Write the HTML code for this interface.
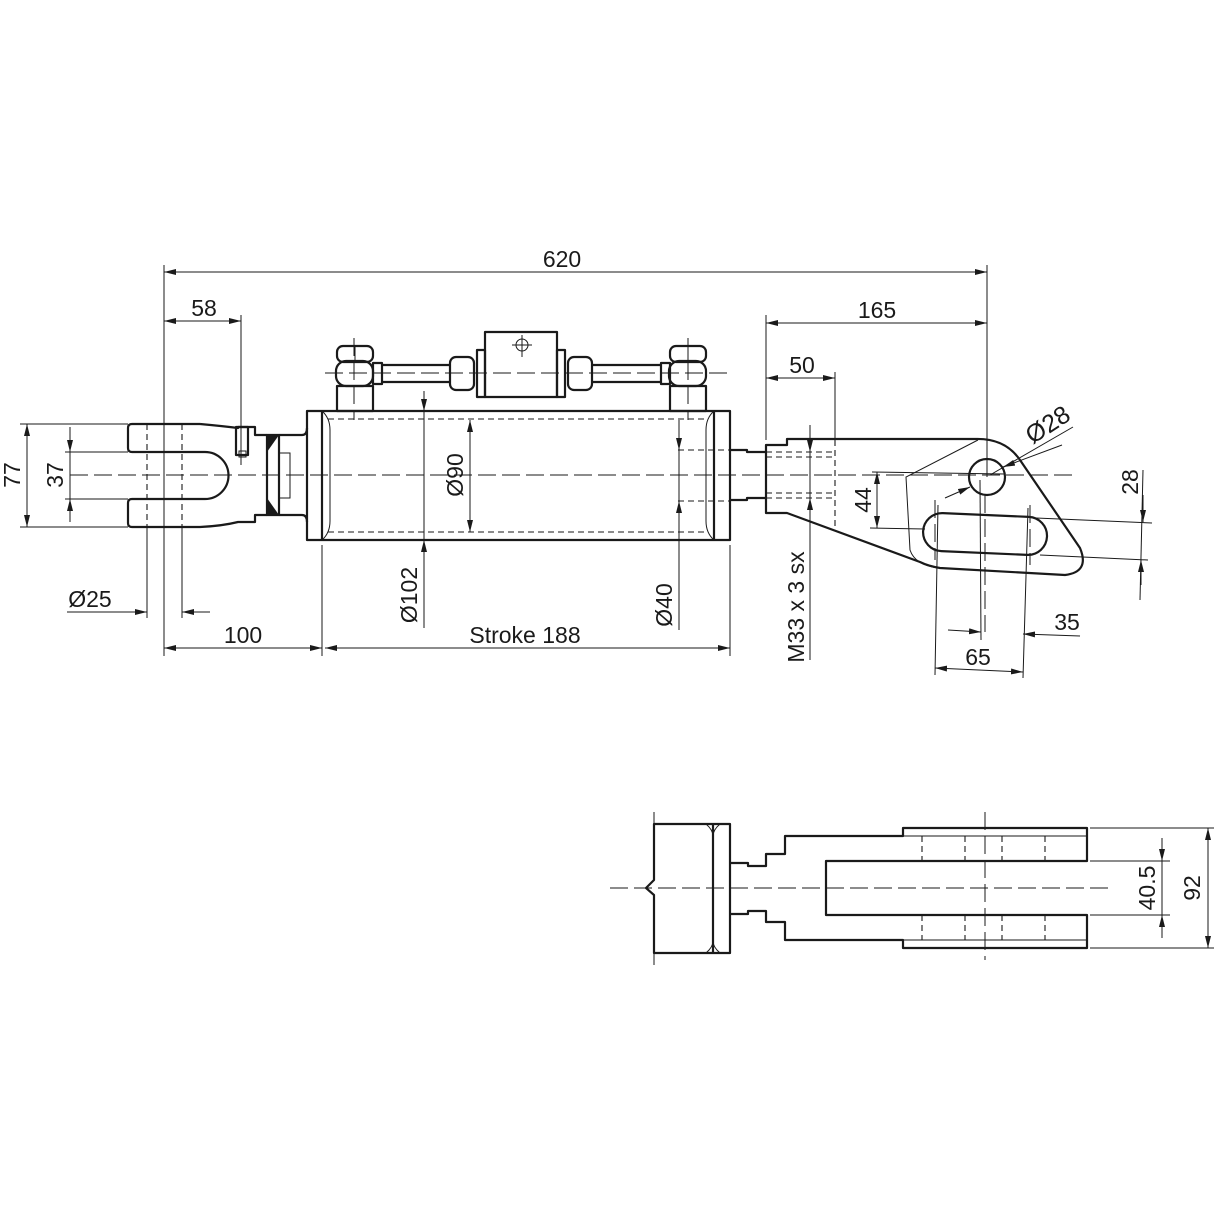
<!DOCTYPE html>
<html><head><meta charset="utf-8"><style>
html,body{margin:0;padding:0;background:#fff}
svg{display:block}
text{font-family:"Liberation Sans Narrow","Liberation Sans",sans-serif;font-size:23px;fill:#1a1a1a}
.o{fill:none;stroke:#1a1a1a;stroke-width:2.2;stroke-linejoin:round}
.t{fill:none;stroke:#1a1a1a;stroke-width:1}
.d{fill:none;stroke:#1a1a1a;stroke-width:1.1;stroke-dasharray:6 4}
.c{fill:none;stroke:#1a1a1a;stroke-width:1;stroke-dasharray:18 6}
.a{fill:none;stroke:#1a1a1a;stroke-width:1;marker-start:url(#ar);marker-end:url(#ar)}
.a1{fill:none;stroke:#1a1a1a;stroke-width:1;marker-end:url(#ar)}
</style></head><body>
<svg width="1214" height="1214" viewBox="0 0 1214 1214" xmlns="http://www.w3.org/2000/svg">
<defs>
<marker id="ar" viewBox="0 0 12 6" refX="12" refY="3" markerWidth="12" markerHeight="6" orient="auto-start-reverse" markerUnits="userSpaceOnUse">
<path d="M0,0 L12,3 L0,6 Z" fill="#1a1a1a"/></marker>
</defs>

<!-- centerlines -->
<line class="c" x1="70" y1="475" x2="1075" y2="475"/>
<line class="c" x1="325" y1="373" x2="727" y2="373"/>
<line class="c" x1="354" y1="338" x2="354" y2="420"/>
<line class="c" x1="688" y1="338" x2="688" y2="420"/>

<!-- LEFT CLEVIS -->
<path class="o" d="M200,424 L132,424 Q128,424 128,428 L128,448 Q128,452 132,452 L200,452 Q205,452 205,452 A23,23 0 0 1 205,499 L132,499 Q128,499 128,503 L128,523 Q128,527 132,527 L200,527 Q222,526 238,522 L255,522 L255,515 L267,515"/>
<path class="o" d="M200,424 Q222,426 238,428 L238,427 L255,427 L255,435 L267,435"/>
<rect class="o" x="236" y="427" width="12" height="28"/>
<rect class="t" x="239" y="451" width="7" height="6"/>
<rect class="o" x="267" y="435" width="12" height="80"/>
<path d="M267,435 L279,435 L267,452 Z" fill="#1a1a1a"/>
<path d="M267,515 L279,515 L267,498 Z" fill="#1a1a1a"/>
<rect class="t" x="279" y="453" width="11" height="45"/>
<path class="o" d="M279,435 L302,435 Q307,435 307,428"/>
<path class="o" d="M279,515 L302,515 Q307,515 307,522"/>
<line class="d" x1="147" y1="424" x2="147" y2="527"/>
<line class="d" x1="182" y1="424" x2="182" y2="527"/>

<!-- CYLINDER -->
<rect class="o" x="307" y="411" width="423" height="129"/>
<line class="o" x1="322" y1="411" x2="322" y2="540"/>
<line class="o" x1="714" y1="411" x2="714" y2="540"/>
<path class="t" d="M322,411 Q330,418 330,430 L330,521 Q330,533 322,540"/>
<path class="t" d="M714,411 Q706,418 706,430 L706,521 Q706,533 714,540"/>
<line class="d" x1="328" y1="419" x2="708" y2="419"/>
<line class="d" x1="328" y1="532" x2="708" y2="532"/>
<line class="d" x1="678" y1="450" x2="730" y2="450"/>
<line class="d" x1="678" y1="501" x2="730" y2="501"/>

<!-- PIPES -->
<rect class="o" x="337" y="386" width="36" height="25"/>
<rect class="o" x="336" y="361" width="37" height="25" rx="10"/>
<rect class="o" x="337" y="346" width="36" height="16" rx="6"/>
<line class="t" x1="355" y1="347" x2="355" y2="361"/>
<rect class="o" x="373" y="363" width="9" height="21"/>
<line class="o" x1="382" y1="365" x2="450" y2="365"/>
<line class="o" x1="382" y1="382" x2="450" y2="382"/>
<rect class="o" x="450" y="357" width="24" height="33" rx="6"/>
<rect class="o" x="477" y="350" width="8" height="47"/>
<rect class="o" x="485" y="332" width="72" height="65"/>
<circle class="t" cx="522" cy="345" r="6"/>
<line class="t" x1="512" y1="345" x2="532" y2="345"/>
<line class="t" x1="522" y1="335" x2="522" y2="357"/>
<rect class="o" x="557" y="350" width="8" height="47"/>
<rect class="o" x="568" y="357" width="24" height="33" rx="6"/>
<line class="o" x1="592" y1="365" x2="661" y2="365"/>
<line class="o" x1="592" y1="382" x2="661" y2="382"/>
<rect class="o" x="661" y="363" width="9" height="21"/>
<rect class="o" x="670" y="386" width="36" height="25"/>
<rect class="o" x="669" y="361" width="37" height="25" rx="10"/>
<rect class="o" x="670" y="346" width="36" height="16" rx="6"/>
<line class="t" x1="688" y1="347" x2="688" y2="361"/>

<!-- ROD END RIGHT -->
<path class="o" d="M730,450 L747,450 L747,452 L766,452"/>
<path class="o" d="M730,500 L747,500 L747,498 L766,498"/>
<path class="o" d="M766,445 L787,445 L787,439 L975,439 Q1005,438 1020,460 L1080,548 Q1090,572 1065,575 L940,568 Q928,566 920,562 L787,513 L766,513 Z"/>
<path class="t" d="M978,440 L906,477 L910,550 Q915,565 938,568"/>
<circle class="o" cx="987" cy="477" r="18"/>
<g transform="rotate(2.5 985 535)"><rect class="o" x="923" y="515" width="124" height="38" rx="19"/></g>
<line class="d" x1="766" y1="452" x2="835" y2="452"/>
<line class="d" x1="766" y1="457" x2="835" y2="457"/>
<line class="d" x1="766" y1="493" x2="835" y2="493"/>
<line class="d" x1="766" y1="498" x2="835" y2="498"/>
<line class="d" x1="835" y1="440" x2="835" y2="530"/>
<line class="c" x1="985" y1="495" x2="985" y2="632"/>
<line class="c" x1="935" y1="500" x2="935" y2="560"/>
<line class="c" x1="1030" y1="505" x2="1030" y2="565"/>

<!-- EXTENSION LINES -->
<line class="t" x1="164" y1="265" x2="164" y2="656"/>
<line class="t" x1="241" y1="315" x2="241" y2="465"/>
<line class="t" x1="322" y1="545" x2="322" y2="656"/>
<line class="t" x1="730" y1="545" x2="730" y2="656"/>
<line class="t" x1="766" y1="315" x2="766" y2="440"/>
<line class="t" x1="835" y1="372" x2="835" y2="438"/>
<line class="t" x1="987" y1="265" x2="987" y2="477"/>
<line class="t" x1="20" y1="424" x2="128" y2="424"/>
<line class="t" x1="20" y1="527" x2="128" y2="527"/>
<line class="t" x1="65" y1="452" x2="128" y2="452"/>
<line class="t" x1="65" y1="499" x2="128" y2="499"/>
<line class="t" x1="147" y1="527" x2="147" y2="618"/>
<line class="t" x1="182" y1="527" x2="182" y2="618"/>
<line class="t" x1="872" y1="472" x2="1005" y2="474"/>
<line class="t" x1="870" y1="528" x2="925" y2="529"/>
<line class="t" x1="1036" y1="518" x2="1152" y2="523"/>
<line class="t" x1="1040" y1="555" x2="1148" y2="560"/>
<line class="t" x1="938" y1="505" x2="935" y2="675"/>
<line class="t" x1="980" y1="480" x2="981" y2="640"/>
<line class="t" x1="1028" y1="508" x2="1023" y2="678"/>

<!-- DIMENSIONS -->
<line class="a" x1="164" y1="272" x2="987" y2="272"/>
<text x="562" y="267" text-anchor="middle">620</text>
<line class="a" x1="164" y1="321" x2="241" y2="321"/>
<text x="204" y="316" text-anchor="middle">58</text>
<line class="a" x1="766" y1="323" x2="987" y2="323"/>
<text x="877" y="318" text-anchor="middle">165</text>
<line class="a" x1="766" y1="378" x2="835" y2="378"/>
<text x="802" y="373" text-anchor="middle">50</text>
<line class="a" x1="164" y1="648" x2="322" y2="648"/>
<text x="243" y="643" text-anchor="middle">100</text>
<line class="a" x1="325" y1="648" x2="730" y2="648"/>
<text x="525" y="643" text-anchor="middle">Stroke 188</text>
<line class="a1" x1="67" y1="612" x2="147" y2="612"/>
<line class="a1" x1="210" y1="612" x2="182" y2="612"/>
<text x="90" y="607" text-anchor="middle">Ø25</text>
<line class="a" x1="27" y1="424" x2="27" y2="527"/>
<text transform="translate(12,475) rotate(-90)" text-anchor="middle" dominant-baseline="central">77</text>
<line class="t" x1="70" y1="427" x2="70" y2="522"/>
<line class="a1" x1="70" y1="427" x2="70" y2="452"/>
<line class="a1" x1="70" y1="522" x2="70" y2="499"/>
<text transform="translate(55,475) rotate(-90)" text-anchor="middle" dominant-baseline="central">37</text>
<line class="a" x1="470" y1="420" x2="470" y2="532"/>
<text transform="translate(455,475) rotate(-90)" text-anchor="middle" dominant-baseline="central">Ø90</text>
<line class="t" x1="424" y1="391" x2="424" y2="628"/>
<line class="a1" x1="424" y1="391" x2="424" y2="411"/>
<line class="a1" x1="424" y1="562" x2="424" y2="540"/>
<text transform="translate(409,595) rotate(-90)" text-anchor="middle" dominant-baseline="central">Ø102</text>
<line class="t" x1="679" y1="420" x2="679" y2="630"/>
<line class="a1" x1="679" y1="425" x2="679" y2="450"/>
<line class="a1" x1="679" y1="525" x2="679" y2="501"/>
<text transform="translate(664,605) rotate(-90)" text-anchor="middle" dominant-baseline="central">Ø40</text>
<line class="t" x1="810" y1="425" x2="810" y2="660"/>
<line class="a1" x1="810" y1="425" x2="810" y2="452"/>
<line class="a1" x1="810" y1="525" x2="810" y2="498"/>
<text transform="translate(796,607) rotate(-90)" text-anchor="middle" dominant-baseline="central">M33 x 3 sx</text>
<line class="a" x1="877" y1="472" x2="877" y2="528"/>
<text transform="translate(863,500) rotate(-90)" text-anchor="middle" dominant-baseline="central">44</text>
<line class="t" x1="1143" y1="470" x2="1140" y2="600"/>
<line class="a1" x1="1143" y1="495" x2="1143" y2="522"/>
<line class="a1" x1="1141" y1="585" x2="1141" y2="560"/>
<text transform="translate(1130,482) rotate(-90)" text-anchor="middle" dominant-baseline="central">28</text>
<line class="t" x1="1073" y1="427" x2="990" y2="475"/>
<line class="a1" x1="1062" y1="445" x2="1003" y2="467"/>
<line class="a1" x1="945" y1="498" x2="970" y2="487"/>
<text transform="translate(1048,425) rotate(-33)" text-anchor="middle" dominant-baseline="central" style="font-size:25px">Ø28</text>
<line class="a1" x1="948" y1="630" x2="981" y2="632"/>
<line class="a1" x1="1080" y1="636" x2="1023" y2="634"/>
<text x="1067" y="630" text-anchor="middle">35</text>
<line class="a" x1="935" y1="668" x2="1023" y2="672"/>
<text x="978" y="665" text-anchor="middle">65</text>

<!-- BOTTOM VIEW -->
<line class="c" x1="610" y1="888" x2="1110" y2="888"/>
<line class="c" x1="985" y1="812" x2="985" y2="960"/>
<path class="o" d="M654,824 L730,824 L730,953 L654,953 L654,895 L646,888 L654,880 Z" fill="#fff"/>
<line class="o" x1="713" y1="824" x2="713" y2="953"/>
<path class="t" d="M706,824 Q713,830 713,836 Q713,830 720,824"/>
<path class="t" d="M706,953 Q713,947 713,941 Q713,947 720,953"/>
<line class="t" x1="654" y1="812" x2="654" y2="824"/>
<line class="t" x1="654" y1="953" x2="654" y2="965"/>
<path class="o" d="M730,863 L748,863 L748,866 L766,866 L766,854 L785,854 L785,836 L903,836 L903,828 L1087,828 L1087,861 L826,861 L826,915 L1087,915 L1087,948 L903,948 L903,940 L785,940 L785,922 L766,922 L766,911 L748,911 L748,914 L730,914"/>
<line class="t" x1="903" y1="836" x2="1087" y2="836"/>
<line class="t" x1="903" y1="940" x2="1087" y2="940"/>
<line class="d" x1="922" y1="836" x2="922" y2="861"/>
<line class="d" x1="965" y1="836" x2="965" y2="861"/>
<line class="d" x1="1002" y1="836" x2="1002" y2="861"/>
<line class="d" x1="1045" y1="836" x2="1045" y2="861"/>
<line class="d" x1="922" y1="915" x2="922" y2="940"/>
<line class="d" x1="965" y1="915" x2="965" y2="940"/>
<line class="d" x1="1002" y1="915" x2="1002" y2="940"/>
<line class="d" x1="1045" y1="915" x2="1045" y2="940"/>
<line class="t" x1="1090" y1="828" x2="1214" y2="828"/>
<line class="t" x1="1090" y1="948" x2="1214" y2="948"/>
<line class="t" x1="1090" y1="861" x2="1170" y2="861"/>
<line class="t" x1="1090" y1="915" x2="1170" y2="915"/>
<line class="a" x1="1208" y1="828" x2="1208" y2="948"/>
<text transform="translate(1192,888) rotate(-90)" text-anchor="middle" dominant-baseline="central">92</text>
<line class="t" x1="1162" y1="838" x2="1162" y2="938"/>
<line class="a1" x1="1162" y1="838" x2="1162" y2="861"/>
<line class="a1" x1="1162" y1="938" x2="1162" y2="915"/>
<text transform="translate(1147,888) rotate(-90)" text-anchor="middle" dominant-baseline="central">40.5</text>
</svg>
</body></html>
